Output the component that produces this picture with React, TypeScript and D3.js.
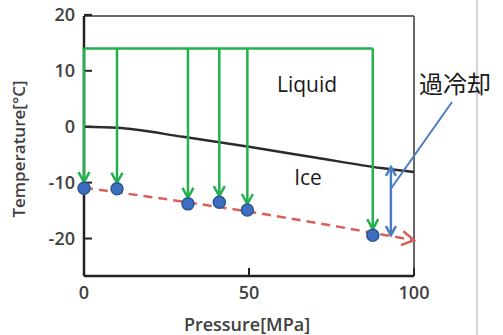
import React from 'react';
import * as d3 from 'd3';

// pressures [MPa] where samples were cooled from 14°C
const pressures = [0, 10, 31.5, 41, 49.5, 87.5];
// freezing temperatures observed [°C]
const freezeTemps = [-11, -11.1, -13.8, -13.5, -14.9, -19.4];
const startTemp = 14;

// melting curve of ice (Liquid / Ice boundary)
const meltP = [0, 10, 30, 50, 70, 90, 100];
const meltT = [0, -0.2, -1.8, -3.6, -5.5, -7.4, -8.1];

// trend of freezing temperature (dashed)
const trendP = [0, 50, 100];
const trendT = [-10.9, -15.2, -20.3];

// supercooling annotation
const superP = 93;
const superTop = -7.2;
const superBottom = -19.4;

const xTicks = [0, 50, 100];
const yTicks = [20, 10, 0, -10, -20];

const W = 503;
const H = 335;
const margin = { left: 84, right: 89, top: 16, bottom: 59 };

const green = '#22b14c';
const blue = '#4a7cc0';
const red = '#d9605a';
const tickFont = '"Open Sans", "DejaVu Sans", sans-serif';

const App = () => {
    const x = d3.scaleLinear().domain([0, 100]).range([margin.left, W - margin.right]);
    const y = d3.scaleLinear().domain([-26.7, 19.8]).range([H - margin.bottom, margin.top]);

    const line = d3.line<[number, number]>()
        .x(d => x(d[0]))
        .y(d => y(d[1]));

    const meltPath = line.curve(d3.curveMonotoneX)(meltP.map((p, i) => [p, meltT[i]]));
    const trendPts: [number, number][] = trendP.map((p, i) => [p, trendT[i]]);
    const trendPath = d3.line<[number, number]>().x(d => x(d[0])).y(d => y(d[1])).curve(d3.curveNatural)(trendPts);

    // red arrow head direction from last segment
    const ex = x(trendP[trendP.length - 1]);
    const ey = y(trendT[trendT.length - 1]);
    const ang = Math.atan2(ey - y(trendT[1] + (trendT[2] - trendT[1]) * 0.9), ex - x(trendP[1] + (trendP[2] - trendP[1]) * 0.9));
    const head = (len: number, half: number) => {
        const bx = ex - len * Math.cos(ang);
        const by = ey - len * Math.sin(ang);
        const nx = -Math.sin(ang) * half;
        const ny = Math.cos(ang) * half;
        return `M${bx + nx},${by + ny}L${ex},${ey}L${bx - nx},${by - ny}`;
    };

    const x0 = x(0), x1 = x(100), yT = y(19.8), yB = y(-26.7);
    const gTop = y(startTemp);
    const r = 6;

    const sx = x(superP);
    const sTop = y(superTop);
    const sBot = y(superBottom);

    return (
        <svg width={W} height={H} style={{ position: 'absolute', left: 0, top: 0, background: '#fff' }}>
            {/* image border on the right */}
            <line x1={477} x2={477} y1={0} y2={H} stroke="#c8c8c8" strokeWidth={1.5} />

            {/* frame */}
            <line x1={x0} x2={x1} y1={yT} y2={yT} stroke="#666" strokeWidth={2} />
            <line x1={x1} x2={x1} y1={yT} y2={yB} stroke="#666" strokeWidth={2} />
            <line x1={x0} x2={x1} y1={yB} y2={yB} stroke="#222" strokeWidth={2.5} />
            <line x1={x0} x2={x0} y1={yT} y2={yB} stroke="#222" strokeWidth={2.5} />

            {/* ticks */}
            {yTicks.map(t => (
                <g key={'y' + t}>
                    <line x1={x0} x2={x0 + 8} y1={y(t)} y2={y(t)} stroke="#222" strokeWidth={2} />
                    <text x={75} y={y(t)} dy="0.35em" textAnchor="end" fontFamily={tickFont}
                        fontWeight={600} fontSize={18} fill="#404040">{t}</text>
                </g>
            ))}
            {xTicks.map(t => (
                <g key={'x' + t}>
                    <line x1={x(t)} x2={x(t)} y1={yB} y2={yB - 8} stroke="#222" strokeWidth={2} />
                    <text x={x(t)} y={299} textAnchor="middle" fontFamily={tickFont}
                        fontWeight={600} fontSize={18} fill="#404040">{t}</text>
                </g>
            ))}

            {/* axis titles */}
            <text transform={`translate(25,149) rotate(-90)`} textAnchor="middle" fontFamily={tickFont}
                fontWeight={600} fontSize={17} fill="#404040">Temperature[°C]</text>
            <text x={247} y={331} textAnchor="middle" fontFamily={tickFont}
                fontWeight={600} fontSize={18} fill="#404040">Pressure[MPa]</text>

            {/* melting curve */}
            <path d={meltPath || ''} fill="none" stroke="#2b2b2b" strokeWidth={2.5} />

            {/* trend line */}
            <path d={trendPath || ''} fill="none" stroke={red} strokeWidth={2.5} strokeDasharray="9,6" />
            <path d={head(12, 7)} fill="none" stroke={red} strokeWidth={2.5} />

            {/* green cooling paths */}
            <path d={`M${x(pressures[0])},${gTop}H${x(pressures[pressures.length - 1])}`} fill="none" stroke={green} strokeWidth={2.5} />
            {pressures.map((p, i) => {
                const px = x(p);
                const py = y(freezeTemps[i]) - r;
                return (
                    <g key={'g' + i}>
                        <line x1={px} x2={px} y1={gTop} y2={py} stroke={green} strokeWidth={2.5} />
                        <path d={`M${px - 5.5},${py - 10}L${px},${py}L${px + 5.5},${py - 10}`} fill="none" stroke={green} strokeWidth={2.5} />
                    </g>
                );
            })}

            {/* points */}
            {pressures.map((p, i) => (
                <circle key={'c' + i} cx={x(p)} cy={y(freezeTemps[i])} r={r} fill="#3c6fbf" stroke="#2a5597" strokeWidth={1.5} />
            ))}

            {/* supercooling double arrow */}
            <line x1={sx} x2={sx} y1={sTop} y2={sBot} stroke={blue} strokeWidth={2.5} />
            <path d={`M${sx - 5},${sTop + 9}L${sx},${sTop}L${sx + 5},${sTop + 9}`} fill="none" stroke={blue} strokeWidth={2.5} />
            <path d={`M${sx - 5},${sBot - 9}L${sx},${sBot}L${sx + 5},${sBot - 9}`} fill="none" stroke={blue} strokeWidth={2.5} />
            <line x1={sx} y1={y(-11.1)} x2={452} y2={102} stroke={blue} strokeWidth={2} />

            {/* region labels */}
            <text x={307} y={92} textAnchor="middle" fontFamily={tickFont} fontSize={21} fill="#1a1a1a">Liquid</text>
            <text x={308} y={185} textAnchor="middle" fontFamily={tickFont} fontSize={21} fill="#1a1a1a">Ice</text>
            <text x={419} y={93} fontFamily={'"Noto Sans CJK JP", sans-serif'} fontSize={24} fill="#1a1a1a">過冷却</text>
        </svg>
    );
};

export default App;
